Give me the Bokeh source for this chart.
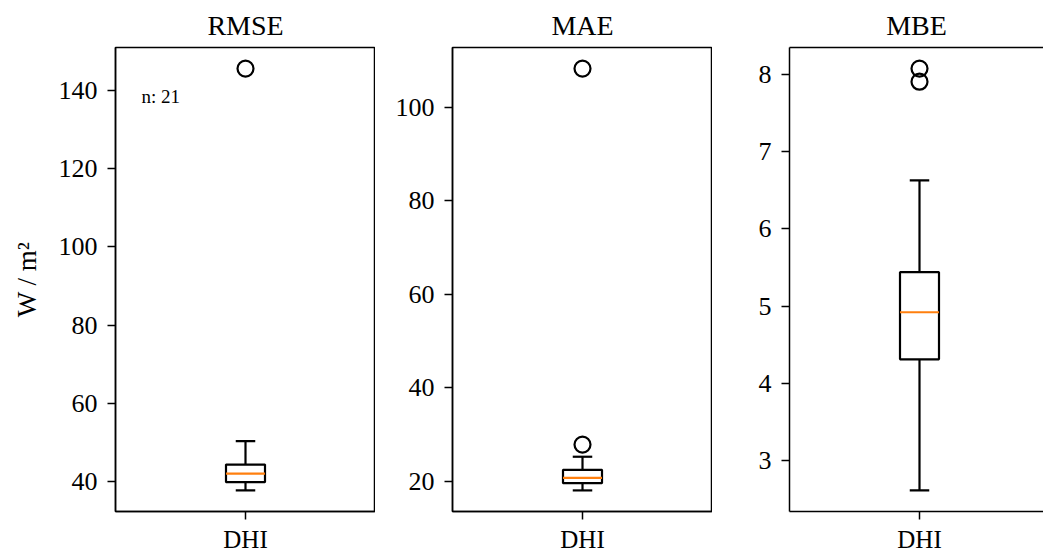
from bokeh.plotting import figure
from bokeh.layouts import row
from bokeh.models import ColumnDataSource, FixedTicker, Range1d, LinearAxis, Label
from bokeh.embed import file_html
from bokeh.resources import INLINE

FONT = "Liberation Serif"

# Error metrics of the DHI model, one box per metric
metrics = ["RMSE", "MAE", "MBE"]
category = "DHI"
n_samples = 21

whisker_low = [37.7, 18.1, 2.61]
quartile_1 = [39.8, 19.65, 4.31]
median = [42.0, 20.8, 4.92]
quartile_3 = [44.3, 22.5, 5.44]
whisker_high = [50.3, 25.3, 6.63]

rmse_outliers = [145.6]
mae_outliers = [108.3, 27.9]
mbe_outliers = [8.08, 7.91]
outliers = [rmse_outliers, mae_outliers, mbe_outliers]

rmse_ticks = [40, 60, 80, 100, 120, 140]
mae_ticks = [20, 40, 60, 80, 100]
mbe_ticks = [3, 4, 5, 6, 7, 8]
y_ticks = [rmse_ticks, mae_ticks, mbe_ticks]

y_label = "W / m\u00b2"

BOX_W = 0.15
CAP_W = 0.075
X = 1.0
LW = 2.2


def style_axis(ax, size):
    ax.axis_line_width = 1.5
    ax.axis_line_color = "black"
    ax.major_tick_line_width = 1.5
    ax.major_tick_line_color = "black"
    ax.major_tick_out = 8
    ax.major_tick_in = 0
    ax.minor_tick_out = 0
    ax.minor_tick_in = 0
    ax.major_label_text_font = FONT
    ax.major_label_text_font_size = size
    ax.major_label_text_color = "black"


def make_panel(i, width, border_left, x_end, full_outline):
    pts = [whisker_low[i], whisker_high[i]] + outliers[i]
    lo, hi = min(pts), max(pts)
    pad = 0.05 * (hi - lo)
    p = figure(width=width, height=555,
               x_range=Range1d(0.5, x_end), y_range=Range1d(lo - pad, hi + pad),
               output_backend="svg", toolbar_location=None,
               min_border_left=border_left, min_border_right=0,
               min_border_top=47, min_border_bottom=44)
    p.background_fill_color = "white"
    p.border_fill_color = "white"
    p.grid.visible = False

    xax = p.below[0]
    yax = p.left[0]
    style_axis(xax, "25px")
    style_axis(yax, "26px")

    xax.ticker = FixedTicker(ticks=[X])
    xax.major_label_overrides = {X: category}
    xax.major_label_standoff = 6

    yax.ticker = FixedTicker(ticks=y_ticks[i])
    yax.major_label_standoff = 10

    if full_outline:
        p.outline_line_color = "black"
        p.outline_line_width = 1.5
        p.outline_line_alpha = 1.0
    else:
        # top spine only; the right edge of this panel runs off the page
        p.outline_line_color = None
        top = LinearAxis(ticker=FixedTicker(ticks=[]), axis_line_width=1.5,
                         axis_line_color="black", major_tick_out=0,
                         major_tick_in=0, minor_tick_out=0, minor_tick_in=0,
                         major_label_text_font_size="0px",
                         major_label_standoff=0)
        p.add_layout(top, "above")

    p.title.text = metrics[i]
    p.title.align = "center"
    p.title.text_font = FONT
    p.title.text_font_size = "28px"
    p.title.text_font_style = "normal"
    p.title.text_color = "black"
    p.title.standoff = 14

    if i == 0:
        yax.axis_label = y_label
        yax.axis_label_text_font = FONT
        yax.axis_label_text_font_size = "27px"
        yax.axis_label_text_font_style = "normal"
        yax.axis_label_text_color = "black"
        yax.axis_label_standoff = 14

    src = ColumnDataSource(dict(x=[X], q1=[quartile_1[i]], q3=[quartile_3[i]],
                                med=[median[i]], lo=[whisker_low[i]],
                                hi=[whisker_high[i]]))
    # whiskers
    p.segment(x0="x", y0="q3", x1="x", y1="hi", source=src,
              line_color="black", line_width=LW)
    p.segment(x0="x", y0="q1", x1="x", y1="lo", source=src,
              line_color="black", line_width=LW)
    # caps
    p.segment(x0=[X - CAP_W / 2], y0=[whisker_high[i]], x1=[X + CAP_W / 2],
              y1=[whisker_high[i]], line_color="black", line_width=LW)
    p.segment(x0=[X - CAP_W / 2], y0=[whisker_low[i]], x1=[X + CAP_W / 2],
              y1=[whisker_low[i]], line_color="black", line_width=LW)
    # box
    p.vbar(x="x", width=BOX_W, bottom="q1", top="q3", source=src,
           fill_color=None, line_color="black", line_width=LW)
    # median
    p.segment(x0=[X - BOX_W / 2], y0=[median[i]], x1=[X + BOX_W / 2],
              y1=[median[i]], line_color="#ff7f0e", line_width=LW)
    # fliers
    p.scatter(x=[X] * len(outliers[i]), y=outliers[i], marker="circle",
              size=16, fill_color=None, line_color="black", line_width=LW)

    if i == 0:
        yr = p.y_range
        p.add_layout(Label(x=0.6, y=yr.start + 0.895 * (yr.end - yr.start),
                           text=f"n: {n_samples}", text_font=FONT,
                           text_font_size="19px", text_color="black",
                           text_baseline="alphabetic"))
    return p


p1 = make_panel(0, 375, 115, 1.5, True)
p2 = make_panel(1, 337, 77, 1.5, True)
p3 = make_panel(2, 331, 77, 0.5 + 254 / 260, False)

layout = row(p1, p2, p3)
open("out.html", "w").write(file_html(layout, INLINE))
